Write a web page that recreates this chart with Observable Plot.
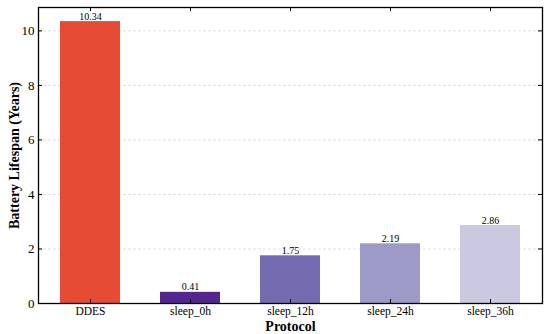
<!DOCTYPE html>
<html><head><meta charset="utf-8">
<script src="https://cdn.jsdelivr.net/npm/d3@7"></script>
<script src="https://cdn.jsdelivr.net/npm/@observablehq/plot@0.6"></script>
<style>body{margin:0;background:#fff;} svg{font-family:"Liberation Serif","Times New Roman",serif;}</style>
</head><body><div id="chart"></div>
<script>
const categories = ["DDES", "sleep_0h", "sleep_12h", "sleep_24h", "sleep_36h"];
const values = [10.34, 0.41, 1.75, 2.19, 2.86];
const colors = ["#e64b35", "#54278f", "#756bb1", "#9e9ac8", "#cbc9e2"];
const yTicks = [0, 2, 4, 6, 8, 10];
const yLabel = "Battery Lifespan (Years)";
const xLabel = "Protocol";

const data = categories.map((c, i) => ({cat: c, v: values[i], color: colors[i]}));
const W = 550, H = 334, mL = 38, mR = 8, mT = 7, mB = 31;
const innerW = W - mL - mR, innerH = H - mT - mB, tk = 4;

const chart = Plot.plot({
  width: W, height: H,
  marginLeft: mL, marginRight: mR, marginTop: mT, marginBottom: mB,
  style: {fontFamily: "Liberation Serif, serif", background: "#fff"},
  x: {domain: categories, paddingInner: 0.4, paddingOuter: 0.22, label: null},
  y: {domain: [0, 10.34 * 1.05], label: null},
  marks: [
    Plot.gridY(yTicks, {stroke: "#d9d9d9", strokeOpacity: 1, strokeDasharray: "3,2", strokeWidth: 0.8}),
    Plot.barY(data, {x: "cat", y: "v", fill: "color"}),
    Plot.text(data, {x: "cat", y: "v", text: d => d.v.toFixed(2), lineAnchor: "bottom", dy: -2, fontSize: 10, fill: "#000"}),
    Plot.frame({stroke: "#000", strokeWidth: 1.3}),
    // inward ticks on all sides
    Plot.gridY(yTicks, {stroke: "#000", strokeOpacity: 1, strokeWidth: 1, insetRight: innerW - tk}),
    Plot.gridY(yTicks, {stroke: "#000", strokeOpacity: 1, strokeWidth: 1, insetLeft: innerW - tk}),
    Plot.gridX(categories, {stroke: "#000", strokeOpacity: 1, strokeWidth: 1, insetTop: innerH - tk}),
    Plot.gridX(categories, {stroke: "#000", strokeOpacity: 1, strokeWidth: 1, insetBottom: innerH - tk}),
    Plot.axisY(yTicks, {anchor: "left", tickSize: 0, tickPadding: 4, fontSize: 13, label: null}),
    Plot.axisX({anchor: "bottom", tickSize: 0, tickPadding: 3, fontSize: 11.5, label: null}),
    Plot.text([yLabel], {x: null, y: null, text: d => d, frameAnchor: "left", textAnchor: "middle", dx: -24, rotate: -90, fontSize: 14, fontWeight: "bold", fill: "#000"}),
    Plot.text([xLabel], {x: null, y: null, text: d => d, frameAnchor: "bottom", lineAnchor: "bottom", dy: 27, fontSize: 14, fontWeight: "bold", fill: "#000"})
  ]
});
document.getElementById("chart").appendChild(chart);
</script></body></html>
